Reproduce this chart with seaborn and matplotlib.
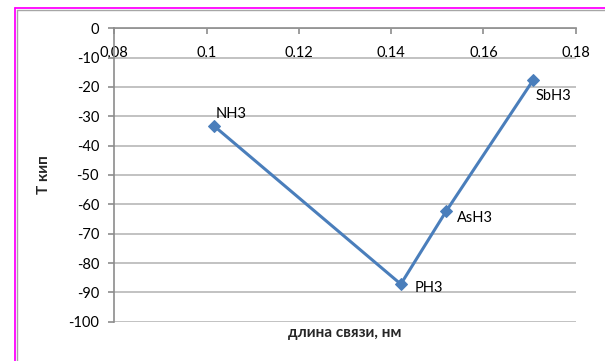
import matplotlib
matplotlib.use("Agg")
import matplotlib.pyplot as plt
from matplotlib.lines import Line2D
import pandas as pd
import seaborn as sns

# Hydrides of group 15: bond length (nm) vs boiling point (°C)
compounds = ["NH3", "PH3", "AsH3", "SbH3"]
bond_length = [0.1017, 0.1421, 0.1519, 0.1708]
t_boil = [-33.4, -87.2, -62.4, -17.6]

x_ticks = [0.08, 0.10, 0.12, 0.14, 0.16, 0.18]
x_tick_labels = ["0,08", "0,1", "0,12", "0,14", "0,16", "0,18"]
y_ticks = [0, -10, -20, -30, -40, -50, -60, -70, -80, -90, -100]
y_tick_labels = ["0", "-10", "-20", "-30", "-40", "-50", "-60", "-70", "-80", "-90", "-100"]

# label offsets in pixels (dx, dy) relative to each point
label_offsets = [(1, 12), (14, -4), (11, -7), (2, -16)]

sns.set_theme(style="white")
plt.rcParams["font.family"] = ["Lato", "DejaVu Sans"]
plt.rcParams["axes.unicode_minus"] = False

W, H, DPI = 605, 361, 100
fig = plt.figure(figsize=(W / DPI, H / DPI), dpi=DPI)
fig.patch.set_facecolor("white")

L, R, T, B = 114.3, 575.7, 28.3, 321.7
ax = fig.add_axes([L / W, 1 - B / H, (R - L) / W, (B - T) / H])

df = pd.DataFrame({"x": bond_length, "y": t_boil, "name": compounds})
line_color = "#4a7ebb"
sns.lineplot(data=df, x="x", y="y", ax=ax, color=line_color, linewidth=2.2,
             marker="D", markersize=6.5, markeredgecolor=line_color, sort=False)

ax.set_xlim(0.08, 0.18)
ax.set_ylim(-100, 0)
ax.set_xticks(x_ticks)
ax.set_xticklabels(x_tick_labels)
ax.set_yticks(y_ticks)
ax.set_yticklabels(y_tick_labels)

grid_c = "#bdbdbd"
axis_c = "#8c8c8c"
ax.yaxis.grid(True, color=grid_c, linewidth=1.3)
ax.xaxis.grid(False)
ax.set_axisbelow(True)

# horizontal axis sits at y = 0 (top of the plot)
for s in ["top", "right"]:
    ax.spines[s].set_visible(False)
ax.spines["bottom"].set_position(("data", 0))
ax.spines["bottom"].set_color(axis_c)
ax.spines["bottom"].set_linewidth(1.2)
ax.spines["left"].set_color(axis_c)
ax.spines["left"].set_linewidth(1.2)

ax.tick_params(axis="x", which="major", bottom=True, direction="out",
               length=4, width=1.2, color=axis_c, pad=8.5, labelsize=10.5,
               labelcolor="black")
ax.tick_params(axis="y", which="major", left=True, direction="out",
               length=4, width=1.2, color=axis_c, pad=7, labelsize=10.5,
               labelcolor="black")

ax.set_xlabel("длина связи, нм", fontsize=11, fontweight="bold", va="center")
ax.xaxis.set_label_coords(0.5, -0.039)
ax.set_ylabel("Т кип", fontsize=11, fontweight="bold", va="center")
ax.yaxis.set_label_coords(-0.152, 0.5)

for name, x, y, (dx, dy) in zip(compounds, bond_length, t_boil, label_offsets):
    ax.annotate(name, (x, y), xytext=(dx, dy), textcoords="offset pixels",
                ha="left", va="center", fontsize=10.5, color="black")

# chart frame (top and left edges) and selection outline
gy = 1 - 9.6 / H
gx = 16.6 / W
fig.add_artist(Line2D([gx, 1.0], [gy, gy], transform=fig.transFigure,
                      color="#a6a6a6", linewidth=1.0))
fig.add_artist(Line2D([gx, gx], [0, gy], transform=fig.transFigure,
                      color="#a6a6a6", linewidth=1.0))
fig.add_artist(Line2D([15 / W, 1.0], [1 - 8 / H, 1 - 8 / H],
                      transform=fig.transFigure, color="#ff00ff", linewidth=1.3))
fig.add_artist(Line2D([15 / W, 15 / W], [0, 1 - 8 / H],
                      transform=fig.transFigure, color="#ff00ff", linewidth=1.3))

fig.savefig("out.png", dpi=DPI, facecolor="white")
